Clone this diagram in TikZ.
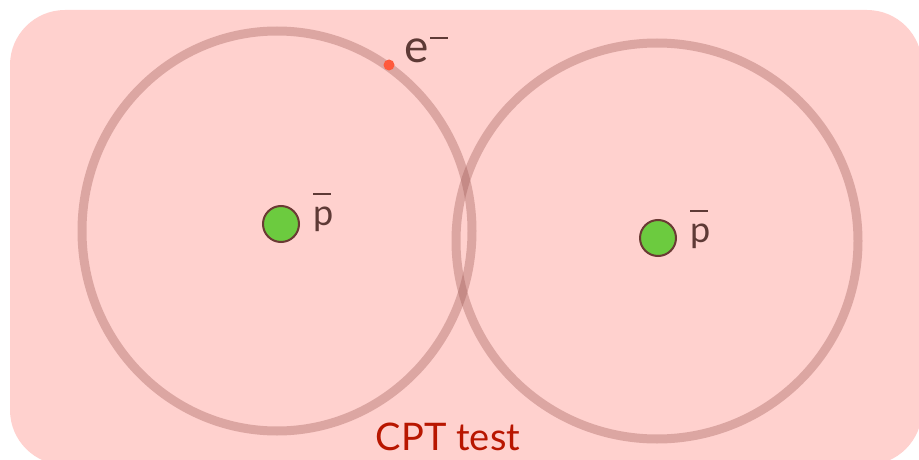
\documentclass[tikz,border=0pt]{standalone}
\usepackage{fontspec}
\setmainfont{Lato}
\usetikzlibrary{positioning}
\definecolor{BackPink}{HTML}{FFD1CE}
\definecolor{RingBrown}{HTML}{9E5A55}
\definecolor{CoreGreen}{HTML}{6CCB3F}
\definecolor{EdgeBrown}{HTML}{6B3A34}
\definecolor{LabelBrown}{HTML}{5E3A36}
\definecolor{DotRed}{HTML}{FF5A3C}
\definecolor{TitleRed}{HTML}{B81600}
\newcommand{\pbar}{\rlap{\rule[0.83em]{0.5em}{0.05em}}p}
\begin{document}
\begin{tikzpicture}[x=1pt,y=-1pt,
  orbit/.style={draw=RingBrown,line width=9pt,draw opacity=.36},
  antiproton/.style={circle,draw=EdgeBrown,line width=2pt,fill=CoreGreen,minimum size=36pt,inner sep=0pt},
  plabel/.style={text=LabelBrown,font=\fontsize{36}{36}\selectfont,inner sep=0pt,anchor=base west}]
\useasboundingbox (0,0) rectangle (919,460);
\fill[BackPink,rounded corners=55pt] (10,10) rectangle (922,465);
% orbits
\draw[orbit] (277,231) circle[x radius=195pt,y radius=200pt];
\draw[orbit] (657,241) circle[x radius=201pt,y radius=198pt];
% nuclei
\node[antiproton] (pleft) at (281,224) {};
\node[plabel] (pleftlab) at ([xshift=13pt,yshift=-1pt]pleft.east) {\pbar};
\node[antiproton] (pright) at (658,238) {};
\node[plabel] (prightlab) at ([xshift=13pt,yshift=-4pt]pright.east) {\pbar};
% electron
\node[circle,fill=DotRed,minimum size=11pt,inner sep=0pt] (elec) at (389,65) {};
\node[text=LabelBrown,font=\fontsize{46}{46}\selectfont,inner sep=0pt,anchor=base west] (eleclab) at (404,63) {e\hspace{2pt}\rule[24pt]{18pt}{2.2pt}};
\node[text=TitleRed,font=\fontsize{38}{38}\selectfont,inner sep=0pt] (title) at (448,437) {CPT test};
\end{tikzpicture}
\end{document}
